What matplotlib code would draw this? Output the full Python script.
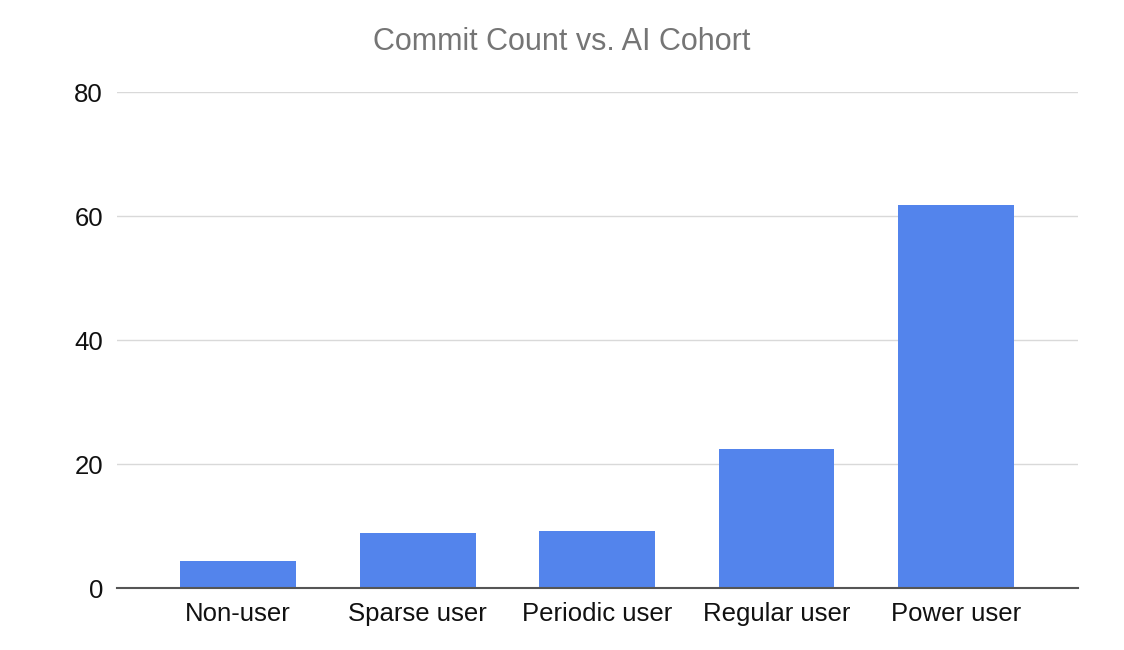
import matplotlib
matplotlib.use("Agg")
import matplotlib.pyplot as plt

categories = ["Non-user", "Sparse user", "Periodic user", "Regular user", "Power user"]
values = [4.3, 8.8, 9.15, 22.45, 61.85]
yticks = [0, 20, 40, 60, 80]
title = "Commit Count vs. AI Cohort"

plt.rcParams['font.family'] = ['Liberation Sans', 'DejaVu Sans']

W, H = 1124, 650
fig = plt.figure(figsize=(W / 100, H / 100), dpi=100)
left, right, top, bottom = 117, 1078, 92, 588
ax = fig.add_axes([left / W, 1 - bottom / H, (right - left) / W, (bottom - top) / H])

x = list(range(len(categories)))
ax.bar(x, values, width=0.646, color="#5384EC", zorder=3)

ax.set_xlim(-0.675, len(categories) - 1 + 0.68)
ax.set_ylim(0, 80)
ax.set_yticks(yticks)
ax.set_yticklabels([str(t) for t in yticks])
ax.set_xticks(x)
ax.set_xticklabels(categories)

ax.grid(axis="y", color="#d9d9d9", linewidth=1.0, zorder=0)
ax.grid(axis="x", visible=False)
for s in ["top", "right", "left"]:
    ax.spines[s].set_visible(False)
ax.spines["bottom"].set_color("#555555")
ax.spines["bottom"].set_linewidth(1.5)
ax.spines["bottom"].set_zorder(4)

ax.tick_params(axis="y", length=0, pad=10, labelsize=18.5, labelcolor="#111111")
ax.tick_params(axis="x", length=0, pad=10, labelsize=18.5, labelcolor="#111111")

fig.text(0.5, 1 - 42 / H, title, ha="center", va="center", fontsize=22, color="#757575")

fig.savefig("out.png", dpi=100, facecolor="white")
